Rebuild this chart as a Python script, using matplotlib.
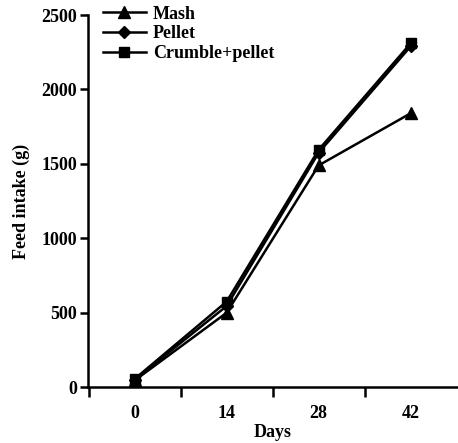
import matplotlib
matplotlib.use('Agg')
import matplotlib.pyplot as plt

# data
days = [0, 14, 28, 42]
mash = [45, 500, 1490, 1840]
pellet = [50, 545, 1575, 2290]
crumble = [55, 575, 1595, 2310]

plt.rcParams['font.family'] = ['Liberation Serif', 'DejaVu Serif']
plt.rcParams['font.weight'] = 'bold'

fig = plt.figure(figsize=(4.58, 4.43), dpi=100)
ax = fig.add_axes([0.192, 0.126, 0.808, 0.84])

ax.plot(days, mash, color='black', lw=1.8, marker='^', ms=8, label='Mash')
ax.plot(days, pellet, color='black', lw=1.8, marker='D', ms=6, label='Pellet')
ax.plot(days, crumble, color='black', lw=1.8, marker='s', ms=7, label='Crumble+pellet')

ax.set_xlim(-7.1, 49.2)
ax.set_ylim(0, 2500)
ax.set_yticks([0, 500, 1000, 1500, 2000, 2500])

# labels sit under the days, tick marks sit between them
ax.set_xticks([-7, 7, 21, 35])
ax.set_xticklabels([])
ax.set_xticks(days, minor=True)
ax.set_xticklabels([str(d) for d in days], minor=True)
ax.tick_params(axis='x', which='major', length=7, width=1.8, direction='out')
ax.tick_params(axis='x', which='minor', length=0, pad=13, labelsize=13)
ax.tick_params(axis='y', length=6, width=1.8, labelsize=13, pad=2)

for s in ['top', 'right']:
    ax.spines[s].set_visible(False)
for s in ['left', 'bottom']:
    ax.spines[s].set_linewidth(1.8)

ax.set_xlabel('Days', fontsize=13, fontweight='bold', labelpad=1)
ax.set_ylabel('Feed intake (g)', fontsize=13, fontweight='bold', labelpad=8)

ax.legend(loc='upper left', frameon=False, fontsize=13, handlelength=2.4,
          bbox_to_anchor=(0.02, 1.045), borderaxespad=0, labelspacing=0.15,
          handletextpad=0.4)

fig.savefig('out.png', dpi=100)
